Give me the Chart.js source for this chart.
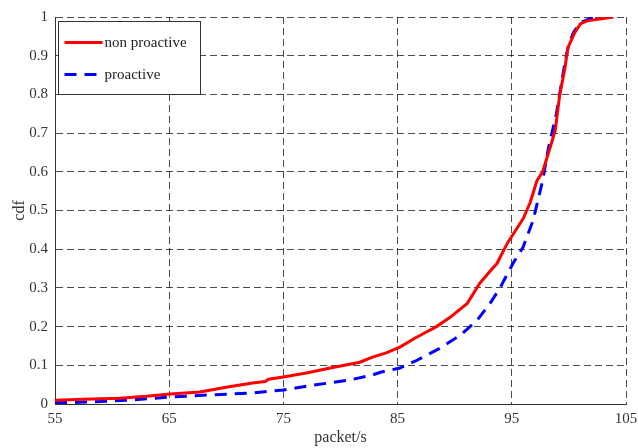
<!DOCTYPE html>
<html>
<head>
<meta charset="utf-8">
<script src="https://cdn.jsdelivr.net/npm/chart.js@4/dist/chart.umd.min.js"></script>
<style>
  html, body { margin: 0; padding: 0; background: #fff; }
  #wrap { width: 638px; height: 448px; }
</style>
</head>
<body>
<div id="wrap"><canvas id="cdf-chart" width="638" height="448"></canvas></div>
<script>
// values
const nonProactiveX = [55, 57.5, 60.7, 63, 65.1, 67.7, 70.1, 72.3, 73.4, 73.7, 75, 77, 79.1, 81.7, 82.8, 84, 85.2, 86.5, 88.4, 89.6, 91.1, 92.2, 93.3, 93.7, 94.6, 96, 96.6, 97.2, 97.7, 98.35, 98.8, 99.2, 99.66, 99.9, 100.5, 101, 101.6, 103, 103.9];
const nonProactiveY = [0.01, 0.012, 0.015, 0.02, 0.026, 0.031, 0.044, 0.054, 0.058, 0.064, 0.07, 0.08, 0.093, 0.108, 0.121, 0.132, 0.147, 0.17, 0.2, 0.224, 0.26, 0.312, 0.35, 0.363, 0.415, 0.479, 0.52, 0.577, 0.6, 0.662, 0.706, 0.8, 0.869, 0.92, 0.959, 0.982, 0.99, 0.996, 1.0];

const proactiveX = [55, 58, 61.6, 65, 68.3, 72, 75, 77, 80.8, 82.8, 83.5, 85.2, 86.7, 88.7, 90.5, 91.95, 93.1, 93.97, 95.1, 95.98, 96.86, 97.7, 98.2, 98.9, 99.3, 99.7, 100, 100.4, 101, 102, 102.7];
const proactiveY = [0.003, 0.005, 0.01, 0.018, 0.023, 0.028, 0.036, 0.046, 0.062, 0.075, 0.082, 0.093, 0.113, 0.144, 0.178, 0.216, 0.26, 0.3, 0.363, 0.405, 0.474, 0.577, 0.66, 0.75, 0.82, 0.89, 0.93, 0.96, 0.985, 0.998, 1.0];

const seriesLabels = ['non proactive', 'proactive'];
const xTicks = [55, 65, 75, 85, 95, 105];
const yTicks = [0, 0.1, 0.2, 0.3, 0.4, 0.5, 0.6, 0.7, 0.8, 0.9, 1];

const toPoints = (xs, ys) => xs.map((x, i) => ({ x: x, y: ys[i] }));
const serif = 'Liberation Serif, Times New Roman, serif';

// legend box in the top-left corner of the plot, like the matlab one
const boxLegend = {
  id: 'boxLegend',
  afterDraw(chart) {
    const ctx = chart.ctx;
    const area = chart.chartArea;
    const left = area.left + 3.5, top = area.top + 4.5;
    const w = 142, h = 73;
    ctx.save();
    ctx.fillStyle = '#fff';
    ctx.fillRect(left, top, w, h);
    ctx.strokeStyle = '#333';
    ctx.lineWidth = 1;
    ctx.strokeRect(left, top, w, h);
    chart.data.datasets.forEach((ds, i) => {
      const y = top + 21 + i * 32;
      ctx.beginPath();
      ctx.strokeStyle = ds.borderColor;
      ctx.lineWidth = ds.borderWidth;
      ctx.setLineDash(ds.borderDash || []);
      ctx.moveTo(left + 6, y);
      ctx.lineTo(left + 44, y);
      ctx.stroke();
      ctx.setLineDash([]);
      ctx.fillStyle = '#222';
      ctx.font = '15px ' + serif;
      ctx.textBaseline = 'middle';
      ctx.fillText(ds.label, left + 46, y + 1);
    });
    ctx.restore();
  }
};

new Chart(document.getElementById('cdf-chart'), {
  type: 'line',
  data: {
    datasets: [
      {
        label: seriesLabels[0],
        data: toPoints(nonProactiveX, nonProactiveY),
        borderColor: '#ff0000',
        borderWidth: 3,
        pointRadius: 0,
        tension: 0,
      },
      {
        label: seriesLabels[1],
        data: toPoints(proactiveX, proactiveY),
        borderColor: '#0000ff',
        borderWidth: 3,
        borderDash: [12, 8],
        pointRadius: 0,
        tension: 0,
      },
    ],
  },
  options: {
    responsive: false,
    animation: false,
    layout: { padding: { top: 17, right: 12, left: 0, bottom: 0 } },
    plugins: { legend: { display: false }, tooltip: { enabled: false } },
    scales: {
      x: {
        type: 'linear',
        min: 55,
        max: 105,
        afterBuildTicks: (scale) => { scale.ticks = xTicks.map((v) => ({ value: v })); },
        afterFit: (scale) => { scale.height = 44; scale.paddingLeft = 0; scale.paddingRight = 0; },
        ticks: { color: '#333', font: { family: serif, size: 15 }, padding: 6, maxRotation: 0, callback: (v) => String(v) },
        grid: { color: 'rgba(0,0,0,0.7)', lineWidth: 1, drawTicks: false },
        border: { display: true, color: '#333', width: 1, dash: [7, 4] },
        title: { display: true, text: 'packet/s', color: '#333', font: { family: serif, size: 16 }, padding: { top: 0, bottom: 1 } },
      },
      y: {
        min: 0,
        max: 1,
        afterBuildTicks: (scale) => { scale.ticks = yTicks.map((v) => ({ value: v })); },
        afterFit: (scale) => { scale.width = 55; scale.paddingTop = 0; scale.paddingBottom = 0; },
        ticks: { color: '#333', font: { family: serif, size: 15 }, padding: 7, callback: (v) => String(v) },
        grid: { color: 'rgba(0,0,0,0.7)', lineWidth: 1, drawTicks: false },
        border: { display: true, color: '#333', width: 1, dash: [7, 4] },
        title: { display: true, text: 'cdf', color: '#333', font: { family: serif, size: 16 }, padding: { top: 10, bottom: 0 } },
      },
    },
  },
  plugins: [boxLegend],
});
</script>
</body>
</html>
